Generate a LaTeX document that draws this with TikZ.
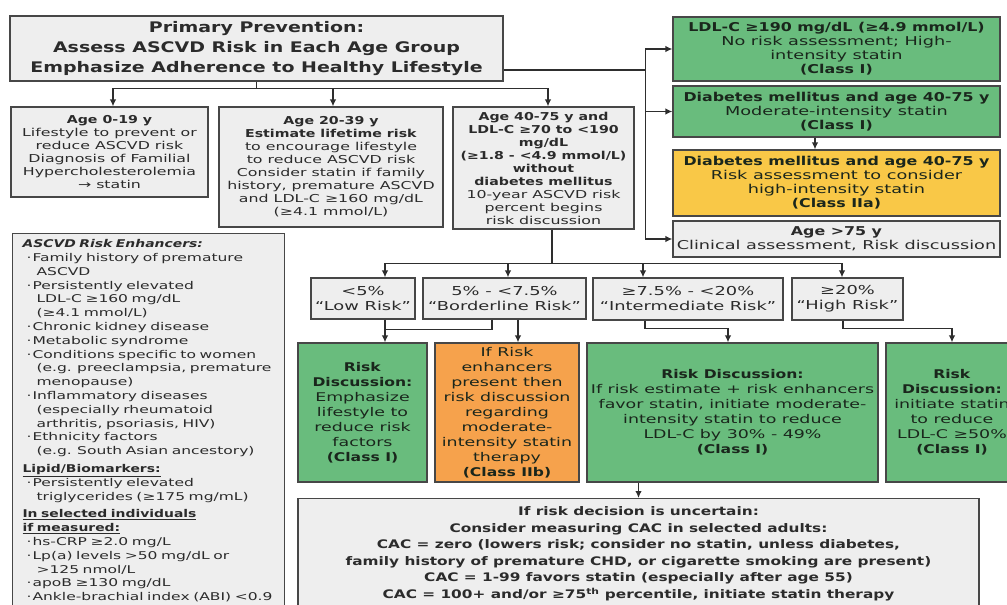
\documentclass[tikz,border=0pt]{standalone}
\usepackage{fontspec}
\setmainfont{DejaVu Sans}[
  UprightFeatures={FakeStretch=1.45},
  BoldFeatures={FakeStretch=1.3},
  ItalicFeatures={FakeStretch=1.45},
  BoldItalicFeatures={FakeStretch=1.3}]
\usepackage{tikz}
\usetikzlibrary{arrows.meta, positioning, calc}

\definecolor{boxgrey}{HTML}{EEEEEE}
\definecolor{boxline}{HTML}{474747}
\definecolor{linkgrey}{HTML}{2E2E2E}
\definecolor{textgrey}{HTML}{2B2B2B}
\definecolor{darktext}{HTML}{1A261C}
\definecolor{statgreen}{HTML}{69BC7D}
\definecolor{statorange}{HTML}{F6A24C}
\definecolor{statyellow}{HTML}{F9C847}

\newcommand{\titlefont}{\fontsize{14.6}{20}\selectfont\bfseries}
\newcommand{\agefont}{\fontsize{10.9}{13}\selectfont}
\newcommand{\rightfont}{\fontsize{12.2}{14}\selectfont}
\newcommand{\enhfont}{\fontsize{10.7}{13.8}\selectfont}
\newcommand{\riskfont}{\fontsize{12.3}{15}\selectfont}
\newcommand{\discfont}{\fontsize{12}{15}\selectfont}
\newcommand{\cacfont}{\fontsize{11.8}{16.6}\selectfont\bfseries}
\newcommand{\enhitem}{\hspace*{10pt}\makebox[6pt][l]{·}}
\newcommand{\enhcont}{\hspace*{20pt}}

\begin{document}
\begin{tikzpicture}[>={Latex[length=7pt,width=6.5pt]}, x=1pt, y=-1pt, line join=miter,
  box/.style={draw=boxline, line width=1.1pt, fill=boxgrey, text=textgrey,
    align=center, inner sep=2pt},
  greenbox/.style={box, fill=statgreen, text=darktext},
  orangebox/.style={box, fill=statorange, text=darktext},
  yellowbox/.style={box, fill=statyellow, text=darktext},
  link/.style={draw=linkgrey, line width=1.4pt}]
\useasboundingbox (0,0) rectangle (1007,605);
\clip (0,0) rectangle (1007,605);
%%
  % Node: title
  \node[box, font=\titlefont, minimum width=493pt, minimum height=65pt] (title) at (256.5,48.5)
    {Primary Prevention:\\ Assess ASCVD Risk in Each Age Group\\ Emphasize Adherence to Healthy Lifestyle};
  % Node: age0
  \node[box, font=\agefont, minimum width=197pt, minimum height=90pt] (age0) at (109.5,152)
    {\textbf{Age 0-19 y}\\ Lifestyle to prevent or\\ reduce ASCVD risk\\ Diagnosis of Familial\\
     Hypercholesterolemia\\ → statin};
  % Node: age20
  \node[box, font=\agefont, minimum width=224pt, minimum height=120pt] (age20) at (331,167)
    {\textbf{Age 20-39 y}\\ \textbf{Estimate lifetime risk}\\ to encourage lifestyle\\ to reduce ASCVD risk\\
     Consider statin if family\\ history, premature ASCVD\\ and LDL-C ≥160 mg/dL\\ (≥4.1 mmol/L)};
  % Node: age40
  \node[box, font=\agefont, minimum width=181pt, minimum height=122pt] (age40) at (543.5,168)
    {\textbf{Age 40-75 y and}\\ \textbf{LDL-C ≥70 to <190}\\ \textbf{mg/dL}\\ \textbf{(≥1.8 - <4.9 mmol/L)}\\
     \textbf{without}\\ \textbf{diabetes mellitus}\\ 10-year ASCVD risk\\ percent begins\\ risk discussion};
  % Node: r1
  \node[greenbox, font=\rightfont, minimum width=327pt, minimum height=64pt] (r1) at (836.5,49)
    {\textbf{LDL-C ≥190 mg/dL (≥4.9 mmol/L)}\\ No risk assessment; High-\\ intensity statin\\ \textbf{(Class I)}};
  % Node: r2
  \node[greenbox, font=\rightfont, minimum width=327pt, minimum height=51pt] (r2) at (836.5,111.5)
    {\textbf{Diabetes mellitus and age 40-75 y}\\ Moderate-intensity statin\\ \textbf{(Class I)}};
  % Node: r3
  \node[yellowbox, font=\rightfont, minimum width=327pt, minimum height=66pt] (r3) at (836.5,183)
    {\textbf{Diabetes mellitus and age 40-75 y}\\ Risk assessment to consider\\ high-intensity statin\\
     \textbf{(Class IIa)}};
  % Node: r4
  \node[box, font=\rightfont, minimum width=327pt, minimum height=36pt] (r4) at (836.5,239)
    {\textbf{Age >75 y}\\ Clinical assessment, Risk discussion};
  % Node: enhancers
  \node[box, font=\enhfont, anchor=north west, text width=264pt, align=left,
        inner xsep=4pt, inner ysep=6pt] (enh) at (12,233)
    {\hspace*{6pt}\textbf{\textit{ASCVD Risk Enhancers:}}\\
     \enhitem Family history of premature\\ \enhcont ASCVD\\
     \enhitem Persistently elevated\\ \enhcont LDL-C ≥160 mg/dL\\ \enhcont (≥4.1 mmol/L)\\
     \enhitem Chronic kidney disease\\
     \enhitem Metabolic syndrome\\
     \enhitem Conditions specific to women\\ \enhcont (e.g. preeclampsia, premature\\ \enhcont menopause)\\
     \enhitem Inflammatory diseases\\ \enhcont (especially rheumatoid\\ \enhcont arthritis, psoriasis, HIV)\\
     \enhitem Ethnicity factors\\ \enhcont (e.g. South Asian ancestory)\\[4pt]
     \hspace*{6pt}\underline{\textbf{Lipid/Biomarkers:}}\\
     \enhitem Persistently elevated\\ \enhcont triglycerides (≥175 mg/mL)\\[4pt]
     \hspace*{6pt}\underline{\textbf{In selected individuals}}\\ \hspace*{6pt}\underline{\textbf{if measured:}}\\
     \enhitem hs-CRP ≥2.0 mg/L\\
     \enhitem Lp(a) levels >50 mg/dL or\\ \enhcont >125 nmol/L\\
     \enhitem apoB ≥130 mg/dL\\
     \enhitem Ankle-brachial index (ABI) <0.9};
  % Node: low
  \node[box, font=\riskfont, minimum width=104pt, minimum height=41pt] (low) at (363,298.5)
    {<5\%\\ “Low Risk”};
  % Node: border
  \node[box, font=\riskfont, minimum width=163pt, minimum height=41pt] (border) at (504.5,298.5)
    {5\% - <7.5\%\\ “Borderline Risk”};
  % Node: inter
  \node[box, font=\riskfont, minimum width=190pt, minimum height=42pt] (inter) at (688,299)
    {≥7.5\% - <20\%\\ “Intermediate Risk”};
  % Node: high
  \node[box, font=\riskfont, minimum width=111pt, minimum height=42pt] (high) at (847.5,299)
    {≥20\%\\ “High Risk”};
  % Node: g1
  \node[greenbox, font=\discfont, minimum width=129pt, minimum height=139pt] (g1) at (362.5,412.5)
    {\textbf{Risk}\\ \textbf{Discussion:}\\ Emphasize\\ lifestyle to\\ reduce risk\\ factors\\ \textbf{(Class I)}};
  % Node: orange
  \node[orangebox, font=\discfont, minimum width=144pt, minimum height=139pt] (orange) at (507,412.5)
    {If Risk\\ enhancers\\ present then\\ risk discussion\\ regarding\\ moderate-\\ intensity statin\\
     therapy\\ \textbf{(Class IIb)}};
  % Node: g3
  \node[greenbox, font=\discfont, minimum width=291pt, minimum height=139pt] (g3) at (732.5,412.5)
    {\textbf{Risk Discussion:}\\ If risk estimate + risk enhancers\\ favor statin, initiate moderate-\\
     intensity statin to reduce\\ LDL-C by 30\% - 49\%\\ \textbf{(Class I)}};
  % Node: g4
  \node[greenbox, font=\discfont, minimum width=132pt, minimum height=139pt] (g4) at (952,412.5)
    {\textbf{Risk}\\ \textbf{Discussion:}\\ initiate statin\\ to reduce\\ LDL-C ≥50\%\\ \textbf{(Class I)}};
  % Node: cac
  \node[box, font=\cacfont, anchor=north, minimum width=681pt, inner ysep=8pt] (cac) at (638.5,498)
    {If risk decision is uncertain:\\ Consider measuring CAC in selected adults:\\
     CAC = zero (lowers risk; consider no statin, unless diabetes,\\
     family history of premature CHD, or cigarette smoking are present)\\
     CAC = 1-99 favors statin (especially after age 55)\\
     CAC = 100+ and/or ≥75\textsuperscript{th} percentile, initiate statin therapy};
%%
  % Edge: title -- age groups
  \draw[link] (title.south) -- ++(0,7) coordinate (agebus);
  \draw[link,->] (agebus) -| ([xshift=3.5pt]age0.north);
  \draw[link,->] (agebus) -| ([xshift=2pt]age20.north);
  \draw[link,->] (agebus) -| ([xshift=4.5pt]age40.north);
  % Edge: title -- right column
  \draw[link] ([yshift=-21.5pt]title.east) -- ++(142,0) coordinate (rbus);
  \draw[link,->] (rbus) |- (r1.west);
  \draw[link,->] (rbus) |- (r2.west);
  \draw[link,->] (rbus) |- (r4.west);
  % Edge: r2 -- r3
  \draw[link,->] ([xshift=-21.5pt]r2.south) -- ([xshift=-21.5pt]r3.north);
  % Edge: age40 -- risk categories
  \draw[link] ([xshift=8.5pt]age40.south) -- ++(0,34) coordinate (riskbus);
  \draw[link,->] (riskbus) -| ([xshift=22pt]low.north);
  \draw[link,->] (riskbus) -| ([xshift=3.5pt]border.north);
  \draw[link,->] (riskbus) -| ([xshift=-45pt]inter.north);
  \draw[link,->] (riskbus) -| ([xshift=-5.5pt]high.north);
  % Edge: low -- g1, border -- g1
  \draw[link,->] ([xshift=22pt]low.south) -- ([xshift=22.5pt]g1.north);
  \draw[link] ([xshift=-12.5pt]border.south) |- ([xshift=22pt,yshift=-10pt]low.south);
  % Edge: border -- orange
  \draw[link,->] ([xshift=13.5pt]border.south) -- ([xshift=11pt]orange.north);
  % Edge: inter -- g3
  \draw[link,->] ([xshift=-43pt]inter.south) -- ++(0,8) -| ([xshift=-4.5pt]g3.north);
  % Edge: high -- g4
  \draw[link,->] ([xshift=-4.5pt]high.south) -- ++(0,8) -| (g4.north);
  % Edge: g3 -- cac
  \draw[link,->] (g3.south -| cac.north) -- (cac.north);
%
\end{tikzpicture}
\end{document}
